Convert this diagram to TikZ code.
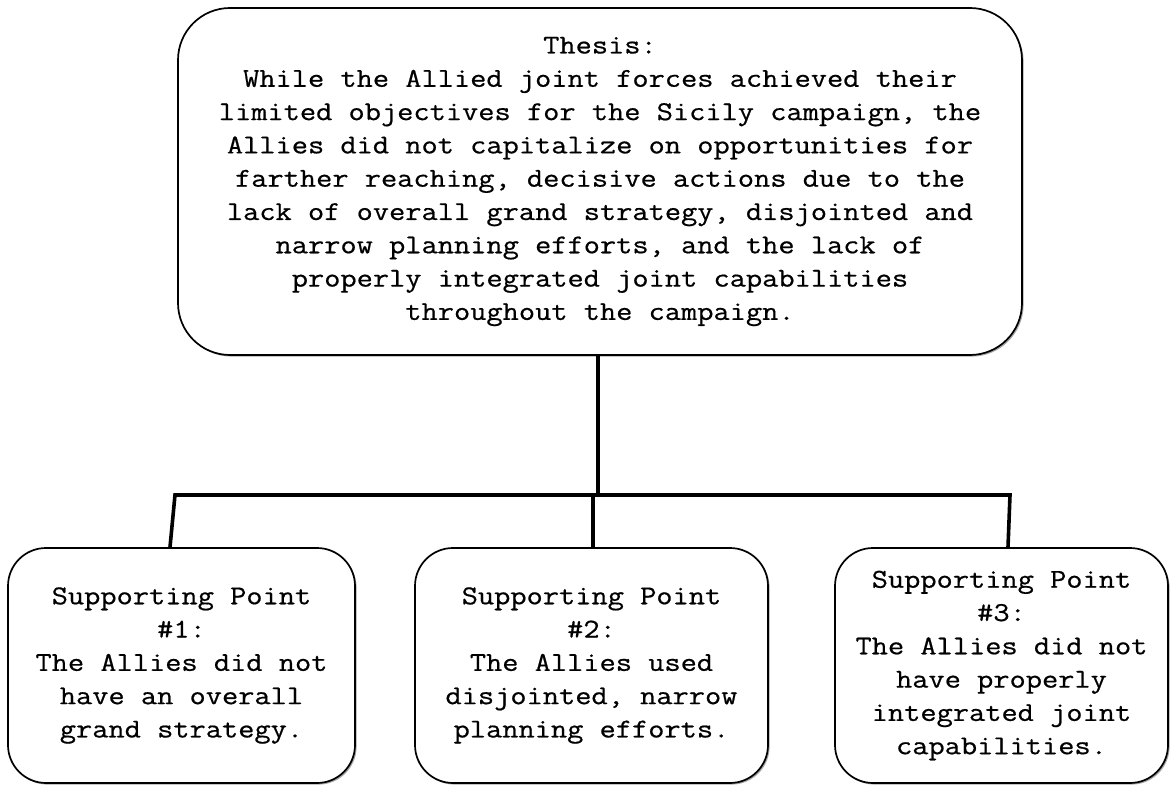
\documentclass[tikz,border=0pt]{standalone}
\usepackage{fontspec}
\setmonofont{Latin Modern Mono}[FakeStretch=1.158, FakeBold=0.6]
\usetikzlibrary{shadows}
\begin{document}
\begin{tikzpicture}[x=1pt,y=-1pt,
  card/.style={draw=black, line width=1.7pt, rounded corners=#1, fill=white,
    align=center, inner sep=0pt,
    font=\fontsize{27.2}{33.3}\selectfont\ttfamily,
    drop shadow={shadow xshift=1.6pt, shadow yshift=-1.6pt, opacity=0.35, fill=black}},
  link/.style={line width=3.6pt, line join=miter}]
\useasboundingbox[fill=white] (0,0) rectangle (1175,786);

% thesis box
\node[card=52, minimum width=844pt, minimum height=347pt] (top) at (600,181.5)
  {Thesis:\\
   While the Allied joint forces achieved their\\
   limited objectives for the Sicily campaign, the\\
   Allies did not capitalize on opportunities for\\
   farther reaching, decisive actions due to the\\
   lack of overall grand strategy, disjointed and\\
   narrow planning efforts, and the lack of\\
   properly integrated joint capabilities\\
   throughout the campaign.};

% supporting points
\node[card=38, minimum width=347pt, minimum height=235pt] (b1) at (181.5,665.5)
  {Supporting Point\\ \#1:\\ The Allies did not\\ have an overall\\ grand strategy.};
\node[card=38, minimum width=353pt, minimum height=235pt] (b2) at (591.5,665.5)
  {Supporting Point\\ \#2:\\ The Allies used\\ disjointed, narrow\\ planning efforts.};
\node[card=38, minimum width=333pt, minimum height=235pt] (b3) at (1001.5,665.5)
  {Supporting Point\\ \#3:\\ The Allies did not\\ have properly\\ integrated joint\\ capabilities.};

% tree connectors
\coordinate (hub) at (598,495);
\coordinate (jL) at (175,495);
\coordinate (jR) at (1010,495);
\coordinate (jM) at (593,495);
\draw[link] (top.south -| hub) -- (hub);
\draw[link] ([xshift=-11.5pt]b1.north) -- (jL) -- (jR) -- ([xshift=6.5pt]b3.north);
\draw[link] (jM) -- ([xshift=1.5pt]b2.north);
\end{tikzpicture}
\end{document}
